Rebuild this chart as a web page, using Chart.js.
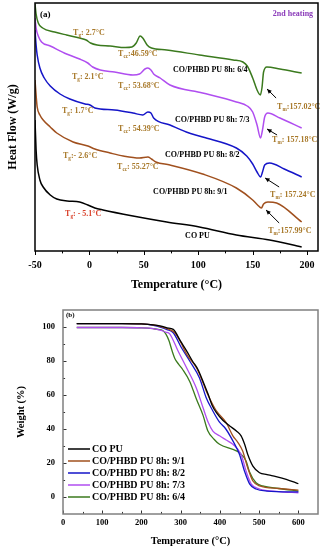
<!DOCTYPE html>
<html>
<head>
<meta charset="utf-8">
<script src="https://cdn.jsdelivr.net/npm/chart.js@4.4.0/dist/chart.umd.min.js"></script>
<style>
  body { margin: 0; background: #fff; }
  #boxA { position: absolute; left: 0; top: 0; width: 331px; height: 295px; }
  #boxB { position: absolute; left: 0; top: 295px; width: 331px; height: 255px; }
</style>
</head>
<body>
<div id="boxA"><canvas id="dscChart"></canvas></div>
<div id="boxB"><canvas id="tgaChart"></canvas></div>
<script>
// series names (same order in both panels)
const seriesNames = ['CO PU', 'CO/PHBD PU 8h: 9/1', 'CO/PHBD PU 8h: 8/2', 'CO/PHBD PU 8h: 7/3', 'CO/PHBD PU 8h: 6/4'];

// (a) DSC 2nd heating, heat flow in shifted units (W/g)
const dscCoPuTemp = [-50, -49, -48, -45.5, -42.5, -36, -30, -20.5, -9, -1.5, 5, 12.5, 40, 71, 101, 135, 165.5, 195];
const dscCoPuFlow = [13.1, 10.1, 8.6, 7.1, 6.4, 5.6, 5.2, 5.0, 4.9, 4.6, 4.3, 4.1, 3.5, 2.9, 2.4, 1.6, 1.1, 0.4];
const dsc91Temp = [-50, -49, -48, -45.5, -42.5, -36, -30, -15, -1.5, 5, 19, 31, 46, 53.7, 57, 61, 74, 104, 135, 150, 154.5, 158, 160, 164, 172, 195];
const dsc91Flow = [17.1, 15.6, 14.4, 13.6, 13.1, 12.4, 11.8, 10.9, 10.5, 10.2, 9.8, 9.5, 9.3, 9.4, 9.2, 8.9, 8.6, 7.7, 6.3, 5.1, 4.6, 4.3, 4.7, 4.9, 4.8, 2.9];
const dsc82Temp = [-50, -49, -48, -45.5, -41.5, -36, -27, -18, -4, 0.5, 5, 23, 40, 49, 53.7, 56.5, 59, 74, 89, 104, 135, 144.5, 150, 154, 157.3, 159, 161, 165.5, 179, 195];
const dsc82Flow = [22.1, 20.6, 19.6, 18.3, 17.3, 16.5, 15.7, 15.2, 14.7, 14.6, 14.3, 14.1, 13.8, 13.6, 13.9, 13.8, 13.3, 12.6, 11.9, 11.4, 10.3, 9.5, 8.7, 7.9, 7.4, 7.9, 8.6, 8.8, 8.2, 7.4];
const dsc73Temp = [-50, -49, -47, -44, -36, -21, -9, -1.5, 3, 10, 23, 40, 46, 51, 53.7, 56.5, 59, 65, 74, 104, 135, 145, 150, 154, 157.2, 159, 161, 164, 175, 195];
const dsc73Flow = [23.3, 22.3, 21.5, 20.9, 20.5, 19.7, 19.2, 18.8, 18.4, 18.1, 17.9, 17.6, 17.7, 18.2, 18.3, 18.1, 17.7, 17.3, 16.6, 15.8, 14.9, 14.5, 13.9, 12.6, 11.3, 12.1, 13.4, 13.8, 13.3, 12.3];
const dsc64Temp = [-50, -49, -47, -43, -32, -21, -9, -3, 1, 7, 19, 33, 39, 43, 46.6, 49, 53, 57, 71, 101, 132, 141, 145, 150, 154, 157, 158.5, 160, 163, 175, 195];
const dsc64Flow = [24.7, 23.7, 22.8, 22.3, 21.9, 21.6, 21.3, 21.1, 20.8, 20.6, 20.5, 20.35, 20.4, 20.8, 21.5, 21.3, 20.6, 20.3, 20.1, 19.6, 19.1, 18.9, 18.5, 17.3, 16.1, 15.6, 16.3, 17.9, 18.4, 18.2, 17.8];
const dscXTicks = [-50, 0, 50, 100, 150, 200];

// (b) TGA, weight %
const tgaCoPuTemp = [35, 150, 200, 230, 250, 265, 281, 300, 315, 330, 344, 357, 370, 380, 391, 408, 425, 442, 454, 463, 471, 484, 501, 520, 535, 569, 600];
const tgaCoPuWt = [102, 102, 101.8, 101.3, 100.5, 99.5, 98.6, 91.5, 86, 80, 75, 68, 60.4, 54, 49.6, 45, 41.8, 38.8, 36, 31, 25, 18.2, 14.3, 13.2, 12.4, 10.4, 7.8];
const tga91Temp = [35, 150, 200, 230, 250, 265, 285, 300, 315, 340, 352, 365, 378, 391, 416, 433, 446, 458, 471, 484, 501, 550, 600];
const tga91Wt = [102, 102, 101.8, 101.2, 100.2, 99, 96.6, 91, 84, 76, 70, 62.4, 56, 50.6, 43.7, 36, 32, 27, 17, 9.4, 6.5, 5, 4];
const tga82Temp = [35, 150, 200, 230, 250, 265, 281, 302, 323, 348, 365, 382, 399, 415, 433, 450, 463, 476, 492, 520, 600];
const tga82Wt = [102, 102, 101.8, 101, 99.8, 98.5, 96.6, 87.8, 80, 70, 58.4, 50.6, 44, 40, 33, 25, 15, 7.6, 4.7, 3.5, 3];
const tga73Temp = [35, 150, 200, 230, 250, 262, 272, 293, 315, 340, 357, 370, 382, 399, 416, 433, 454, 467, 480, 501, 550, 600];
const tga73Wt = [99.7, 99.7, 99.5, 99, 98, 97, 96, 86, 76, 64, 52.5, 44, 38.8, 36, 33.5, 31, 25, 15, 7.6, 4.7, 3.2, 2.5];
const tga64Temp = [35, 150, 200, 230, 245, 255, 262, 270, 278, 285, 295, 305, 323, 341, 357, 369, 385, 399, 433, 450, 467, 475, 492, 509, 550, 600];
const tga64Wt = [99.7, 99.7, 99.5, 99, 98.5, 97.8, 96, 92, 86, 81.5, 78, 75, 68, 57, 48, 39, 34, 31, 28, 26, 21, 15, 8.4, 6.5, 5, 3.5];
const tgaXTicks = [0, 100, 200, 300, 400, 500, 600];
const tgaYTicks = [0, 20, 40, 60, 80, 100];

const colors = ['#000000', '#a0501e', '#1515c8', '#b04ef0', '#3b7a1e'];
const noteColor = '#a8792a';
const FONT = '"Liberation Serif", "Times New Roman", serif';

Chart.defaults.font.family = FONT;
Chart.defaults.font.weight = 'bold';
Chart.defaults.color = '#000';

const toPoints = (xs, ys) => xs.map((x, i) => ({ x: x, y: ys[i] }));

// box around plot + tick marks
const makeFrame = (cfg) => ({
    id: 'frame',
    afterDraw(chart) {
        const { ctx, chartArea: a } = chart;
        ctx.save();
        ctx.lineWidth = 1;
        ctx.strokeStyle = cfg.tickColor;
        cfg.axes.forEach(id => {
            const s = chart.scales[id];
            s.ticks.forEach((t, i) => {
                const major = t.label !== '';
                if (!major && (t.value === s.min || t.value === s.max)) return;
                const len = major ? cfg.len : cfg.len * 0.6;
                const p = Math.round(s.getPixelForTick(i)) + 0.5;
                const d = cfg.inward ? -len : len;
                ctx.beginPath();
                if (id === 'x') { ctx.moveTo(p, a.bottom); ctx.lineTo(p, a.bottom + d); }
                else { ctx.moveTo(a.left, p); ctx.lineTo(a.left - d, p); }
                ctx.stroke();
            });
        });
        ctx.lineWidth = cfg.width;
        ctx.strokeStyle = cfg.color;
        ctx.strokeRect(a.left, a.top, a.right - a.left, a.bottom - a.top);
        ctx.restore();
    }
});

// text labels (T with subscript) and arrows for panel (a)
const dscNotes = [
    { t: -45.4, hf: 23.6, text: '(a)', size: 9, color: '#000' },
    { t: 205.5, hf: 23.7, text: '2nd heating', size: 8, color: '#8a3ab9', align: 'right' },
    { t: -15, hf: 21.8, sub: 'g', text: ': 2.7°C', size: 8, color: noteColor },
    { t: 26.3, hf: 19.7, sub: 'cc', text: ':46.59°C', size: 8, color: noteColor },
    { t: 76.8, hf: 18.1, text: 'CO/PHBD PU 8h: 6/4', size: 8, color: '#000' },
    { t: 172.4, hf: 14.4, sub: 'm', text: ':157.02°C', size: 8, color: noteColor },
    { t: -16, hf: 17.4, sub: 'g', text: ': 2.1°C', size: 8, color: noteColor },
    { t: 26.3, hf: 16.5, sub: 'cc', text: ': 53.68°C', size: 8, color: noteColor },
    { t: 78.7, hf: 13.1, text: 'CO/PHBD PU 8h: 7/3', size: 8, color: '#000' },
    { t: 167.8, hf: 11.1, sub: 'm', text: ': 157.18°C', size: 8, color: noteColor },
    { t: -25.2, hf: 14.0, sub: 'g', text: ': 1.7°C', size: 8, color: noteColor },
    { t: 26.3, hf: 12.2, sub: 'cc', text: ': 54.39°C', size: 8, color: noteColor },
    { t: 69.5, hf: 9.6, text: 'CO/PHBD PU 8h: 8/2', size: 8, color: '#000' },
    { t: 166, hf: 5.6, sub: 'm', text: ': 157.24°C', size: 8, color: noteColor },
    { t: -24.3, hf: 9.5, sub: 'g', text: ':- 2.6°C', size: 8, color: noteColor },
    { t: 25.4, hf: 8.4, sub: 'cc', text: ': 55.27°C', size: 8, color: noteColor },
    { t: 58.5, hf: 5.9, text: 'CO/PHBD PU 8h: 9/1', size: 8, color: '#000' },
    { t: 164.2, hf: 2.0, sub: 'm', text: ':157.99°C', size: 8, color: noteColor },
    { t: -22.4, hf: 3.7, sub: 'g', text: ': - 5.1°C', size: 8, color: '#d9402a' },
    { t: 87.9, hf: 1.5, text: 'CO PU', size: 8, color: '#000' }
];
const dscArrows = [
    { from: [171.5, 15.3], to: [163.2, 16.2] },
    { from: [172.4, 11.6], to: [163.2, 12.2] },
    { from: [174.3, 6.4], to: [161.4, 7.3] },
    { from: [174.3, 2.8], to: [162.3, 4.1] }
];

const notesPlugin = {
    id: 'notes',
    afterDatasetsDraw(chart) {
        const { ctx, scales: { x, y } } = chart;
        ctx.save();
        ctx.textBaseline = 'middle';
        dscNotes.forEach(n => {
            let px = x.getPixelForValue(n.t);
            const py = y.getPixelForValue(n.hf);
            ctx.fillStyle = n.color;
            ctx.textAlign = n.align || 'left';
            ctx.font = 'bold ' + n.size + 'px ' + FONT;
            if (n.sub) {
                ctx.fillText('T', px, py);
                px += ctx.measureText('T').width;
                ctx.font = 'bold ' + (n.size * 0.65) + 'px ' + FONT;
                ctx.fillText(n.sub, px, py + 2.5);
                px += ctx.measureText(n.sub).width;
                ctx.font = 'bold ' + n.size + 'px ' + FONT;
            }
            ctx.fillText(n.text, px, py);
        });
        ctx.strokeStyle = '#000';
        ctx.fillStyle = '#000';
        ctx.lineWidth = 1;
        dscArrows.forEach(ar => {
            const x1 = x.getPixelForValue(ar.from[0]), y1 = y.getPixelForValue(ar.from[1]);
            const x2 = x.getPixelForValue(ar.to[0]), y2 = y.getPixelForValue(ar.to[1]);
            const ang = Math.atan2(y2 - y1, x2 - x1);
            ctx.beginPath();
            ctx.moveTo(x1, y1);
            ctx.lineTo(x2, y2);
            ctx.stroke();
            ctx.beginPath();
            ctx.moveTo(x2, y2);
            ctx.lineTo(x2 - 5 * Math.cos(ang - 0.45), y2 - 5 * Math.sin(ang - 0.45));
            ctx.lineTo(x2 - 5 * Math.cos(ang + 0.45), y2 - 5 * Math.sin(ang + 0.45));
            ctx.closePath();
            ctx.fill();
        });
        ctx.restore();
    }
};

// legend inside plot for panel (b)
const tgaLegend = {
    id: 'tgaLegend',
    afterDraw(chart) {
        const { ctx, chartArea: a } = chart;
        ctx.save();
        ctx.textBaseline = 'middle';
        ctx.textAlign = 'left';
        ctx.font = 'bold 10px ' + FONT;
        chart.data.datasets.forEach((ds, i) => {
            const yy = a.top + 139 + i * 12;
            ctx.strokeStyle = ds.borderColor;
            ctx.lineWidth = 1.5;
            ctx.beginPath();
            ctx.moveTo(a.left + 5, yy);
            ctx.lineTo(a.left + 27, yy);
            ctx.stroke();
            ctx.fillStyle = '#000';
            ctx.fillText(ds.label, a.left + 29, yy);
        });
        ctx.font = 'bold 7px ' + FONT;
        ctx.fillText('(b)', a.left + 3, a.top + 5);
        ctx.restore();
    }
};

// Panel (a) - DSC
const dscSets = [
    toPoints(dscCoPuTemp, dscCoPuFlow),
    toPoints(dsc91Temp, dsc91Flow),
    toPoints(dsc82Temp, dsc82Flow),
    toPoints(dsc73Temp, dsc73Flow),
    toPoints(dsc64Temp, dsc64Flow)
];
new Chart(document.getElementById('dscChart'), {
    type: 'line',
    data: {
        datasets: dscSets.map((d, i) => ({
            label: seriesNames[i],
            data: d,
            borderColor: colors[i],
            borderWidth: 1.5,
            pointRadius: 0,
            cubicInterpolationMode: 'monotone'
        }))
    },
    options: {
        responsive: true,
        maintainAspectRatio: false,
        animation: false,
        layout: { padding: { left: 0, right: 13, top: 3, bottom: 0 } },
        plugins: { legend: { display: false }, tooltip: { enabled: false } },
        scales: {
            x: {
                type: 'linear',
                min: -50,
                max: 210,
                grid: { display: false, drawTicks: false },
                border: { display: false },
                ticks: {
                    stepSize: 25,
                    includeBounds: false,
                    autoSkip: false,
                    maxRotation: 0,
                    padding: 8,
                    font: { size: 10 },
                    callback: v => dscXTicks.includes(v) ? String(v) : ''
                },
                title: { display: true, text: 'Temperature (°C)', font: { size: 12 }, padding: { top: 0, bottom: 3 } },
                afterFit: s => { s.height = 44; }
            },
            y: {
                min: 0,
                max: 24.8,
                grid: { display: false, drawTicks: false },
                border: { display: false },
                ticks: { display: false },
                title: { display: true, text: 'Heat Flow (W/g)', font: { size: 12 }, padding: { top: 6, bottom: 0 } },
                afterFit: s => { s.width = 35; }
            }
        }
    },
    plugins: [makeFrame({ axes: ['x'], inward: false, len: 4, width: 1.5, color: '#000', tickColor: '#000' }), notesPlugin]
});

// Panel (b) - TGA
const tgaSets = [
    toPoints(tgaCoPuTemp, tgaCoPuWt),
    toPoints(tga91Temp, tga91Wt),
    toPoints(tga82Temp, tga82Wt),
    toPoints(tga73Temp, tga73Wt),
    toPoints(tga64Temp, tga64Wt)
];
new Chart(document.getElementById('tgaChart'), {
    type: 'line',
    data: {
        datasets: tgaSets.map((d, i) => ({
            label: seriesNames[i],
            data: d,
            borderColor: colors[i],
            borderWidth: 1.3,
            pointRadius: 0,
            cubicInterpolationMode: 'monotone'
        }))
    },
    options: {
        responsive: true,
        maintainAspectRatio: false,
        animation: false,
        layout: { padding: { left: 0, right: 13, top: 15, bottom: 0 } },
        plugins: { legend: { display: false }, tooltip: { enabled: false } },
        scales: {
            x: {
                type: 'linear',
                min: 0,
                max: 650,
                grid: { display: false, drawTicks: false },
                border: { display: false },
                ticks: {
                    stepSize: 50,
                    includeBounds: false,
                    autoSkip: false,
                    maxRotation: 0,
                    padding: 4,
                    font: { size: 8.5 },
                    callback: v => tgaXTicks.includes(v) ? String(v) : ''
                },
                title: { display: true, text: 'Temperature (°C)', font: { size: 10.5 }, padding: { top: 0, bottom: 2 } },
                afterFit: s => { s.height = 36; }
            },
            y: {
                min: -10,
                max: 110,
                grid: { display: false, drawTicks: false },
                border: { display: false },
                ticks: {
                    stepSize: 10,
                    includeBounds: false,
                    autoSkip: false,
                    padding: 8,
                    font: { size: 8.5 },
                    callback: v => tgaYTicks.includes(v) ? String(v) : ''
                },
                title: { display: true, text: 'Weight (%)', font: { size: 10.5 }, padding: { top: 15, bottom: 0 } },
                afterFit: s => { s.width = 63; }
            }
        }
    },
    plugins: [makeFrame({ axes: ['x', 'y'], inward: true, len: 3.5, width: 1.5, color: '#808080', tickColor: '#333' }), tgaLegend]
});
</script>
</body>
</html>
